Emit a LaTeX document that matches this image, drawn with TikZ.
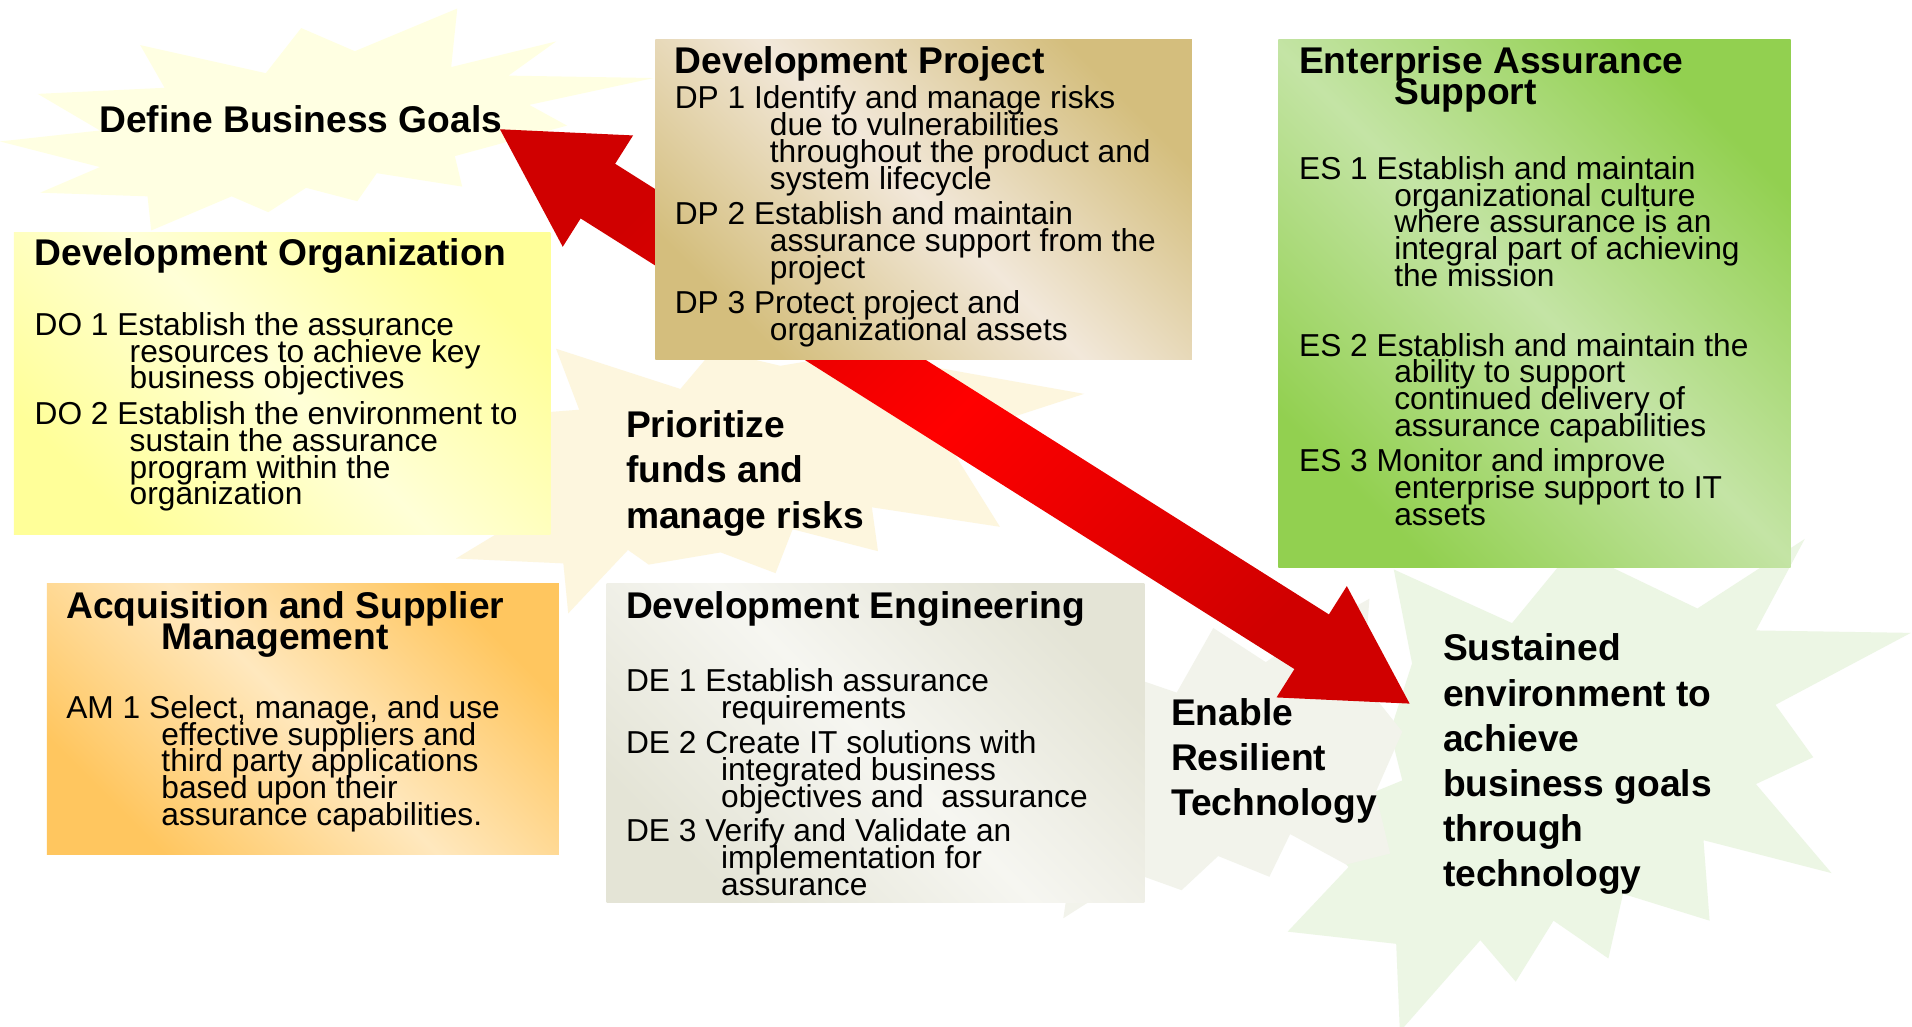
\documentclass[tikz,border=0pt]{standalone}
\usepackage{fontspec}
\setmainfont{Liberation Sans}
\usetikzlibrary{calc}
\definecolor{starY}{RGB}{255,255,226}
\definecolor{starC}{RGB}{253,246,222}
\definecolor{starE}{RGB}{242,243,235}
\definecolor{starG}{RGB}{236,246,228}
\definecolor{doD}{RGB}{255,255,153}
\definecolor{doL}{RGB}{255,255,215}
\definecolor{dpD}{RGB}{212,190,125}
\definecolor{dpL}{RGB}{242,232,218}
\definecolor{esD}{RGB}{146,208,80}
\definecolor{esL}{RGB}{196,228,165}
\definecolor{amD}{RGB}{255,198,95}
\definecolor{amL}{RGB}{255,232,190}
\definecolor{deD}{RGB}{228,228,214}
\definecolor{deL}{RGB}{246,246,241}
\definecolor{arrD}{RGB}{208,0,0}
\definecolor{arrL}{RGB}{255,0,0}
\newcommand\bodytxt[1]{\parbox[t]{230pt}{\fontsize{13}{11}\selectfont\lineskiplimit=-30pt\relax\hangindent=39pt\hangafter=1\relax #1}}
\newcommand\titletxt[1]{\parbox[t]{240pt}{\fontsize{15.25}{13}\selectfont\bfseries\lineskiplimit=-30pt\relax\hangindent=39pt\hangafter=1\relax #1}}
\newcommand\bigtxt[1]{\parbox[t]{190pt}{\fontsize{15.25}{18.5}\selectfont\bfseries\lineskiplimit=-30pt\relax #1}}
\begin{document}
\begin{tikzpicture}[x=0.5pt,y=-0.5pt,
  lbl/.style={inner sep=0pt, anchor=base west},
  panel/.style n args={2}{draw=none, inner sep=0pt, anchor=north west, top color=#1, bottom color=#1, middle color=#2, shading angle=-45}]
\useasboundingbox (0,0) rectangle (1568,842);
\fill[white] (0,0) rectangle (1568,842);

% background bursts
\fill[starG] (1480,442) -- (1440,517) -- (1567,519) -- (1456,578) -- (1487,621) -- (1440,643) -- (1502,716) -- (1397,689) -- (1402,755) -- (1331,733) -- (1319,786) -- (1274,755) -- (1243,805) -- (1214,771) -- (1148,846) -- (1145,774) -- (1056,764) -- (1106,711) -- (1070,673) -- (1150,640) -- (1140,600) -- (1158,544) -- (1143,467) -- (1240,511) -- (1290,450) -- (1392,499) -- cycle;
\fill[starE] (995,515) -- (1038,543) -- (1080,515) -- (1123,491) -- (1118,560) -- (1150,600) -- (1128,650) -- (1140,700) -- (1104,709) -- (1058,684) -- (1041,719) -- (999,702) -- (969,730) -- (930,716) -- (872,753) -- (880,700) -- (900,640) -- (930,556) -- (965,568) -- cycle;
\fill[starC] (456,286) -- (558,319) -- (585,287) -- (640,300) -- (700,290) -- (760,300) -- (889,323) -- (775,360) -- (820,432) -- (715,416) -- (720,452) -- (650,434) -- (636,470) -- (591,453) -- (532,463) -- (515,451) -- (466,503) -- (462,462) -- (374,458) -- (407,438) -- (430,400) -- (449,338) -- (475,336) -- cycle;
\fill[starY] (375,7) -- (370,55) -- (456,34) -- (417,62) -- (536,64) -- (434,86) -- (465,103) -- (373,128) -- (379,153) -- (309,142) -- (293,165) -- (251,154) -- (220,174) -- (190,161) -- (124,189) -- (121,161) -- (33,158) -- (82,137) -- (0,116) -- (82,107) -- (31,77) -- (135,72) -- (115,37) -- (218,60) -- (247,23) -- (291,42) -- cycle;

% double block arrow
\coordinate (tA) at (410,106);
\coordinate (tB) at (1156,577);
\coordinate (bA) at ($(tA)!47.5pt!(tB)$);
\coordinate (bB) at ($(tB)!47.5pt!(tA)$);
\coordinate (hA1) at ($(bA)!27pt!90:(tB)$);
\coordinate (hA2) at ($(bA)!27pt!-90:(tB)$);
\coordinate (sA1) at ($(bA)!13.25pt!90:(tB)$);
\coordinate (sA2) at ($(bA)!13.25pt!-90:(tB)$);
\coordinate (hB1) at ($(bB)!27pt!-90:(tA)$);
\coordinate (hB2) at ($(bB)!27pt!90:(tA)$);
\coordinate (sB1) at ($(bB)!13.25pt!-90:(tA)$);
\coordinate (sB2) at ($(bB)!13.25pt!90:(tA)$);
\path[top color=arrD, bottom color=arrD, middle color=arrL, shading angle=45]
  (tA) -- (hA1) -- (sA1) -- (sB1) -- (hB1) -- (tB) -- (hB2) -- (sB2) -- (sA2) -- (hA2) -- cycle;

% panels
\node[panel={doD}{doL}, minimum width=220pt, minimum height=124pt] (dobox) at (11,190) {};
\node[panel={dpD}{dpL}, minimum width=220pt, minimum height=131pt] (dpbox) at (537,32) {};
\node[panel={esD}{esL}, minimum width=210pt, minimum height=216.5pt] (esbox) at (1048,32) {};
\node[panel={amD}{amL}, minimum width=210pt, minimum height=111pt] (ambox) at (38,478) {};
\node[panel={deD}{deL}, minimum width=220.5pt, minimum height=131pt] (debox) at (497,478) {};

% Development Project
\node[lbl] (dpT) at (553,60) {\titletxt{Development Project}};
\node[lbl] (dp1) at (553,89) {\bodytxt{DP 1 Identify and manage risks\\due to vulnerabilities\\throughout the product and\\system lifecycle}};
\node[lbl] (dp2) at (553,184) {\bodytxt{DP 2 Establish and maintain\\assurance support from the\\project}};
\node[lbl] (dp3) at (553,257) {\bodytxt{DP 3 Protect project and\\organizational assets}};

% Development Organization
\node[lbl] (doT) at (28,218) {\titletxt{Development Organization}};
\node[lbl] (do1) at (28,275) {\bodytxt{DO 1 Establish the assurance\\resources to achieve key\\business objectives}};
\node[lbl] (do2) at (28,348) {\bodytxt{DO 2 Establish the environment to\\sustain the assurance\\program within the\\organization}};

% Enterprise Assurance Support
\node[lbl] (esT) at (1065,60) {\titletxt{Enterprise Assurance\\Support}};
\node[lbl] (es1) at (1065,147) {\bodytxt{ES 1 Establish and maintain\\organizational culture\\where assurance is an\\integral part of achieving\\the mission}};
\node[lbl] (es2) at (1065,292) {\bodytxt{ES 2 Establish and maintain the\\ability to support\\continued delivery of\\assurance capabilities}};
\node[lbl] (es3) at (1065,387) {\bodytxt{ES 3 Monitor and improve\\enterprise support to IT\\assets}};

% Acquisition and Supplier Management
\node[lbl] (amT) at (54,507) {\titletxt{Acquisition and Supplier\\Management}};
\node[lbl] (am1) at (54,589) {\bodytxt{AM 1 Select, manage, and use\\effective suppliers and\\third party applications\\based upon their\\assurance capabilities.}};

% Development Engineering
\node[lbl] (deT) at (513,507) {\titletxt{Development Engineering}};
\node[lbl] (de1) at (513,567) {\bodytxt{DE 1 Establish assurance\\requirements}};
\node[lbl] (de2) at (513,618) {\bodytxt{DE 2 Create IT solutions with\\integrated business\\objectives and\ \ assurance}};
\node[lbl] (de3) at (513,690) {\bodytxt{DE 3 Verify and Validate an\\implementation for\\assurance}};

% burst labels
\node[lbl] (goals) at (81,109) {\bigtxt{Define Business Goals}};
\node[lbl] (prio) at (513,359) {\bigtxt{Prioritize\\funds and\\manage risks}};
\node[lbl] (enable) at (960,595) {\bigtxt{Enable\\Resilient\\Technology}};
\node[lbl] (sust) at (1183,542) {\bigtxt{Sustained\\environment to\\achieve\\business goals\\through\\technology}};
\end{tikzpicture}
\end{document}
